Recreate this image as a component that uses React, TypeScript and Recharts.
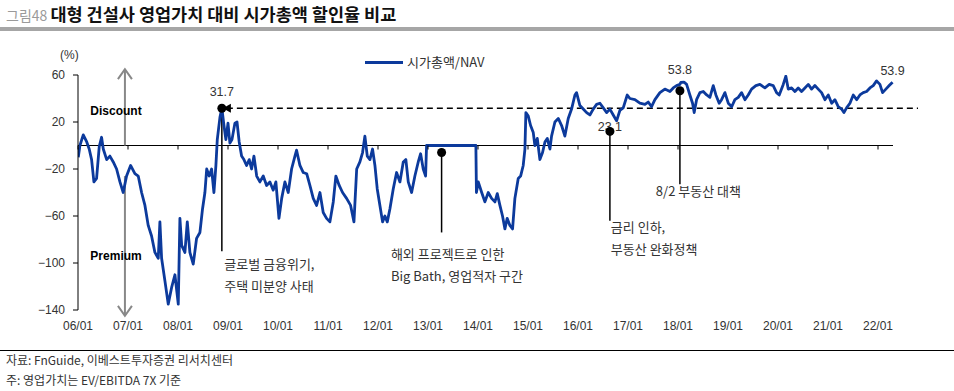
import React from "react";
import { LineChart, Line, XAxis, YAxis, ReferenceLine, ReferenceDot } from "recharts";

// 시가총액/NAV 할인율 (%)
const dates = [
  "2006-01-03", "2006-01-15", "2006-02-09", "2006-03-04", "2006-03-22", "2006-04-09", "2006-04-26", "2006-05-15",
  "2006-06-04", "2006-06-21", "2006-07-03", "2006-07-28", "2006-08-21", "2006-09-15", "2006-10-09", "2006-11-03",
  "2006-11-27", "2006-12-21", "2007-01-20", "2007-02-21", "2007-03-15", "2007-04-09", "2007-05-03", "2007-05-27",
  "2007-06-21", "2007-07-15", "2007-08-09", "2007-08-21", "2007-09-03", "2007-09-27", "2007-10-21", "2007-11-15",
  "2007-12-09", "2008-01-03", "2008-01-15", "2008-01-28", "2008-02-21", "2008-03-08", "2008-03-27", "2008-04-21",
  "2008-05-15", "2008-06-09", "2008-06-28", "2008-07-15", "2008-07-28", "2008-08-16", "2008-09-03", "2008-09-20",
  "2008-10-04", "2008-10-14", "2008-11-03", "2008-11-17", "2008-12-02", "2008-12-16", "2009-01-01", "2009-01-15",
  "2009-01-30", "2009-02-21", "2009-03-06", "2009-03-22", "2009-04-09", "2009-04-26", "2009-05-15", "2009-06-04",
  "2009-06-21", "2009-07-08", "2009-07-28", "2009-08-21", "2009-09-15", "2009-10-09", "2009-11-03", "2009-11-27",
  "2009-12-16", "2010-01-08", "2010-01-28", "2010-02-21", "2010-03-15", "2010-04-09", "2010-05-03", "2010-05-15",
  "2010-06-09", "2010-07-03", "2010-07-28", "2010-08-21", "2010-09-15", "2010-10-09", "2010-11-03", "2010-11-27",
  "2010-12-21", "2011-01-15", "2011-02-09", "2011-02-28", "2011-03-22", "2011-04-16", "2011-05-15", "2011-06-14",
  "2011-07-08", "2011-07-28", "2011-08-21", "2011-09-10", "2011-09-27", "2011-10-14", "2011-11-03", "2011-11-22",
  "2011-12-09", "2011-12-26", "2012-01-15", "2012-02-04", "2012-02-21", "2012-03-08", "2012-03-27", "2012-04-21",
  "2012-05-15", "2012-06-09", "2012-07-03", "2012-07-22", "2012-08-09", "2012-09-03", "2012-09-27", "2012-10-21",
  "2012-11-08", "2012-11-27", "2012-12-14", "2012-12-21", "2013-12-16", "2013-12-20", "2014-01-03", "2014-01-28",
  "2014-02-21", "2014-03-15", "2014-04-09", "2014-05-03", "2014-05-20", "2014-06-09", "2014-06-28", "2014-07-15",
  "2014-08-01", "2014-08-21", "2014-09-10", "2014-09-27", "2014-10-21", "2014-11-08", "2014-11-27", "2014-12-09",
  "2014-12-16", "2015-01-03", "2015-01-20", "2015-02-09", "2015-02-21", "2015-03-08", "2015-03-27", "2015-04-16",
  "2015-05-03", "2015-05-20", "2015-06-09", "2015-06-21", "2015-07-15", "2015-08-09", "2015-09-03", "2015-09-27",
  "2015-10-21", "2015-11-15", "2015-12-09", "2015-12-21", "2016-01-15", "2016-02-09", "2016-03-03", "2016-03-27",
  "2016-04-21", "2016-05-15", "2016-06-09", "2016-07-03", "2016-07-28", "2016-08-21", "2016-09-15", "2016-10-09",
  "2016-11-03", "2016-11-27", "2016-12-26", "2017-01-15", "2017-02-21", "2017-03-27", "2017-05-03", "2017-05-27",
  "2017-06-21", "2017-07-15", "2017-08-21", "2017-09-27", "2017-11-03", "2017-11-27", "2017-12-21", "2018-01-15",
  "2018-01-22", "2018-02-14", "2018-03-03", "2018-03-27", "2018-04-16", "2018-04-28", "2018-05-15", "2018-06-09",
  "2018-07-03", "2018-07-28", "2018-08-21", "2018-09-15", "2018-10-04", "2018-10-28", "2018-11-15", "2018-12-09",
  "2019-01-03", "2019-01-28", "2019-02-21", "2019-03-15", "2019-04-09", "2019-05-03", "2019-05-27", "2019-06-21",
  "2019-07-22", "2019-08-21", "2019-09-27", "2019-10-28", "2019-11-27", "2019-12-21", "2020-01-10", "2020-02-09",
  "2020-02-28", "2020-03-15", "2020-04-09", "2020-05-03", "2020-05-27", "2020-06-21", "2020-07-15", "2020-08-09",
  "2020-09-03", "2020-09-27", "2020-10-21", "2020-11-15", "2020-12-09", "2021-01-03", "2021-01-28", "2021-02-21",
  "2021-03-15", "2021-04-09", "2021-04-26", "2021-05-15", "2021-06-09", "2021-07-03", "2021-07-28", "2021-08-21",
  "2021-09-15", "2021-10-09", "2021-11-03", "2021-11-27", "2021-12-21", "2022-01-15", "2022-02-04", "2022-02-28",
  "2022-03-22", "2022-04-16",
];

const values = [
  -10, 0, 9, 3, -3, -12, -31, -28,
  -1, 7, -3, -12, -9, -14, -20, -31,
  -40, -26, -17, -24, -26, -40, -51, -68,
  -77, -91, -96, -65, -96, -115, -135, -121,
  -110, -135, -62, -85, -91, -65, -91, -101,
  -79, -74, -54, -40, -20, -26, -20, -40,
  -17, 5, 24, 31.7, 17, 5, 19, 2,
  5, 19, 20, 3, -9, -12, -17, -12,
  -20, -9, -26, -31, -26, -34, -31, -38,
  -31, -62, -45, -31, -40, -20, -9, -4,
  -17, -23, -24, -34, -45, -51, -40, -57,
  -62, -65, -48, -26, -34, -40, -45, -51,
  -65, -20, -14, -6, 8, -9, -12, -3,
  -17, -37, -51, -65, -60, -65, -54, -37,
  -23, -31, -14, -12, -31, -40, -26, -14,
  -7, -20, -26, 0, 0, -40, -31, -40,
  -48, -40, -45, -48, -41, -51, -60, -71,
  -62, -68, -71, -45, -28, -26, -17, -3,
  28, 25, 17, 11, 0, 6, -12, -6,
  3, 6, -3, 8, 20, 23, 17, 8,
  23, 31, 43, 45, 34, 31, 28, 26,
  31, 35, 36, 32, 28, 31, 26, 21,
  30, 32, 43, 40, 39, 36, 35, 37,
  33, 39, 45, 48, 46, 49, 51, 52,
  53.8, 54, 52, 43, 36, 28, 39, 45,
  46, 43, 41, 51, 43, 36, 39, 45,
  36, 33, 39, 41, 45, 39, 43, 48,
  51, 52, 49, 52, 51, 45, 43, 52,
  59, 48, 49, 46, 49, 46, 49, 52,
  48, 51, 48, 45, 39, 43, 36, 39,
  33, 31, 28, 32, 36, 43, 39, 43,
  45, 46, 49, 51, 55, 52, 45, 48,
  51, 53.9,
];

const yTicks = [60, 20, -20, -60, -100, -140];
const xTickYears = [2006, 2007, 2008, 2009, 2010, 2011, 2012, 2013, 2014, 2015, 2016, 2017, 2018, 2019, 2020, 2021, 2022];
const xTickLabels = ["06/01", "07/01", "08/01", "09/01", "10/01", "11/01", "12/01", "13/01", "14/01", "15/01", "16/01", "17/01", "18/01", "19/01", "20/01", "21/01", "22/01"];

// callouts: [date, value] of the marker and how far down the leader line goes
const peakCall = { date: "2008-11-17", value: 31.7, bottom: -90, label: "31.7" };
const bathCall = { date: "2013-04-09", value: -6, bottom: -74 };
const rateCall = { date: "2016-08-21", value: 12, bottom: -64, label: "23.1" };
const policyCall = { date: "2018-01-15", value: 46.6, bottom: -33, label: "53.8" };
const lastLabel = { date: "2022-04-16", value: 53.9, label: "53.9" };

const notes = [
  { date: "2008-12-04", value: -104.7, lines: ["글로벌 금융위기,", "주택 미분양 사태"] },
  { date: "2012-04-04", value: -96.2, lines: ["해외 프로젝트로 인한", "Big Bath, 영업적자 구간"] },
  { date: "2016-08-28", value: -73.2, lines: ["금리 인하,", "부동산 완화정책"] },
  { date: "2017-07-22", value: -43.4, lines: ["8/2 부동산 대책"] },
];

const arrowDate = "2006-12-09";
const sideLabelDate = "2006-10-05";

const FONT = '"Liberation Sans", Arial, "Noto Sans CJK KR", sans-serif';
const KR_FONT = '"Noto Sans CJK KR", "Liberation Sans", sans-serif';
const LINE_COLOR = "#0c3a9c";

const toYear = (d: string) => {
  const [y, m, day] = d.split("-").map(Number);
  return y + (m - 1 + (day - 1) / 30.5) / 12;
};

const data = dates.map((d, i) => ({ t: toYear(d), v: values[i] }));
const X_MAX = 2022.8;
const ZERO_END = 2022.3;

const noteShape = (lines: string[]) => (p: any) => (
  <text x={p.cx} y={p.cy} fontSize={13} fill="#333" fontFamily={KR_FONT}>
    {lines.map((l, i) => (
      <tspan key={i} x={p.cx} dy={i === 0 ? 0 : 22}>
        {l}
      </tspan>
    ))}
  </text>
);

const dotShape = (label?: string, dy = 0, arrow = false) => (p: any) => (
  <g>
    {label && (
      <text x={p.cx} y={p.cy + dy} textAnchor="middle" fontSize={12.5} fill="#333" fontFamily={FONT}>
        {label}
      </text>
    )}
    <circle cx={p.cx} cy={p.cy} r={4.5} fill="#000" />
    {arrow && <polygon points={`${p.cx + 1},${p.cy} ${p.cx + 9},${p.cy - 4.5} ${p.cx + 9},${p.cy + 4.5}`} fill="#000" />}
  </g>
);

const textShape = (label: string, dy: number) => (p: any) => (
  <text x={p.cx} y={p.cy + dy} textAnchor="middle" fontSize={12.5} fill="#333" fontFamily={FONT}>
    {label}
  </text>
);

const boldShape = (label: string) => (p: any) => (
  <text x={p.cx} y={p.cy} textAnchor="middle" fontSize={12} fontWeight="bold" fill="#000" fontFamily={FONT}>
    {label}
  </text>
);

const chevron = (up: boolean) => (p: any) => {
  const s = up ? 10 : -10;
  return (
    <polyline
      points={`${p.cx - 7},${p.cy + s} ${p.cx},${p.cy} ${p.cx + 7},${p.cy + s}`}
      fill="none"
      stroke="#888"
      strokeWidth={2}
    />
  );
};

const tickMark = (p: any) => <line x1={p.cx} y1={p.cy} x2={p.cx} y2={p.cy + 4} stroke="#000" strokeWidth={1} />;

const leader = (c: { date: string; value: number; bottom: number }, key: string) => (
  <ReferenceLine
    key={key}
    segment={[{ x: toYear(c.date), y: c.value }, { x: toYear(c.date), y: c.bottom }]}
    stroke="#000"
    strokeWidth={1.5}
    ifOverflow="visible"
  />
);

export default function App() {
  const ax = toYear(arrowDate);
  return (
    <div style={{ position: "absolute", left: 0, top: 0, width: 954, height: 391, background: "#fff", overflow: "hidden" }}>
      <div style={{ position: "absolute", left: 6, top: 1, whiteSpace: "nowrap", fontFamily: KR_FONT }}>
        <span style={{ fontSize: 14, color: "#9a9a9a" }}>그림48 </span>
        <span style={{ fontSize: 17.5, fontWeight: "bold", color: "#111" }}>대형 건설사 영업가치 대비 시가총액 할인율 비교</span>
      </div>
      <div style={{ position: "absolute", left: 0, top: 27, width: 954, height: 4, background: "#a6a6a6" }} />

      <div style={{ position: "absolute", left: 60, top: 48, fontSize: 12, color: "#333", fontFamily: FONT }}>(%)</div>
      <div style={{ position: "absolute", left: 365, top: 61, width: 38, height: 2.5, background: LINE_COLOR }} />
      <div style={{ position: "absolute", left: 407, top: 54, fontSize: 13, color: "#333", fontFamily: KR_FONT, lineHeight: "15px" }}>
        시가총액/NAV
      </div>

      <div style={{ position: "absolute", left: 0, top: 0 }}>
        <LineChart width={954} height={391} data={data} margin={{ top: 75, right: 36, bottom: 51, left: 0 }}>
          <XAxis
            dataKey="t"
            type="number"
            domain={[2006, X_MAX]}
            ticks={xTickYears}
            interval={0}
            tickFormatter={(v: number) => xTickLabels[xTickYears.indexOf(v)]}
            axisLine={false}
            tickLine={false}
            tickMargin={5}
            height={30}
            tick={{ fontSize: 12, fill: "#333", fontFamily: FONT }}
            allowDataOverflow
          />
          <YAxis
            type="number"
            domain={[-140, 60]}
            ticks={yTicks}
            interval={0}
            tickFormatter={(v: number) => (v < 0 ? "\u2212" + Math.abs(v) : String(v))}
            axisLine={{ stroke: "#000" }}
            tickLine={{ stroke: "#000" }}
            tickSize={5}
            tickMargin={8}
            width={78}
            tick={{ fontSize: 12, fill: "#333", fontFamily: FONT }}
            allowDataOverflow
          />

          <ReferenceLine segment={[{ x: 2006, y: 0 }, { x: ZERO_END, y: 0 }]} stroke="#000" strokeWidth={1.2} />
          {xTickYears.map((y) => (
            <ReferenceDot key={"tk" + y} x={y} y={0} r={0} shape={tickMark} ifOverflow="visible" />
          ))}

          {/* Discount / Premium arrows */}
          <ReferenceLine segment={[{ x: ax, y: 0 }, { x: ax, y: 65 }]} stroke="#888" strokeWidth={2} ifOverflow="visible" />
          <ReferenceDot x={ax} y={65} r={0} shape={chevron(true)} ifOverflow="visible" />
          <ReferenceLine segment={[{ x: ax, y: -26 }, { x: ax, y: -145 }]} stroke="#888" strokeWidth={2} ifOverflow="visible" />
          <ReferenceDot x={ax} y={-145} r={0} shape={chevron(false)} ifOverflow="visible" />

          <ReferenceLine
            segment={[{ x: toYear(peakCall.date) + 0.1, y: peakCall.value }, { x: X_MAX, y: peakCall.value }]}
            stroke="#000"
            strokeWidth={1.5}
            strokeDasharray="6 4"
            ifOverflow="visible"
          />
          {leader(peakCall, "l1")}
          {leader(bathCall, "l2")}
          {leader(rateCall, "l3")}
          {leader(policyCall, "l4")}

          <Line type="linear" dataKey="v" stroke={LINE_COLOR} strokeWidth={2.8} strokeLinejoin="round" dot={false} isAnimationActive={false} />

          <ReferenceDot x={toYear(peakCall.date)} y={peakCall.value} r={0} shape={dotShape(peakCall.label, -12, true)} ifOverflow="visible" />
          <ReferenceDot x={toYear(bathCall.date)} y={bathCall.value} r={0} shape={dotShape()} ifOverflow="visible" />
          <ReferenceDot x={toYear(rateCall.date)} y={rateCall.value} r={0} shape={dotShape(rateCall.label, 0)} ifOverflow="visible" />
          <ReferenceDot x={toYear(policyCall.date)} y={policyCall.value} r={0} shape={dotShape(policyCall.label, -17)} ifOverflow="visible" />
          <ReferenceDot x={toYear(lastLabel.date)} y={lastLabel.value} r={0} shape={textShape(lastLabel.label, -7)} ifOverflow="visible" />

          <ReferenceDot x={toYear(sideLabelDate)} y={26} r={0} shape={boldShape("Discount")} ifOverflow="visible" />
          <ReferenceDot x={toYear(sideLabelDate)} y={-97.5} r={0} shape={boldShape("Premium")} ifOverflow="visible" />

          {notes.map((n, i) => (
            <ReferenceDot key={"n" + i} x={toYear(n.date)} y={n.value} r={0} shape={noteShape(n.lines)} ifOverflow="visible" />
          ))}
        </LineChart>
      </div>

      <div style={{ position: "absolute", left: 0, top: 350, width: 954, height: 1, background: "#000" }} />
      <div style={{ position: "absolute", left: 6, top: 352, fontSize: 12, color: "#333", fontFamily: KR_FONT, lineHeight: "16px" }}>
        자료: FnGuide, 이베스트투자증권 리서치센터
      </div>
      <div style={{ position: "absolute", left: 6, top: 372, fontSize: 12, color: "#333", fontFamily: KR_FONT, lineHeight: "16px" }}>
        주: 영업가치는 EV/EBITDA 7X 기준
      </div>
    </div>
  );
}
